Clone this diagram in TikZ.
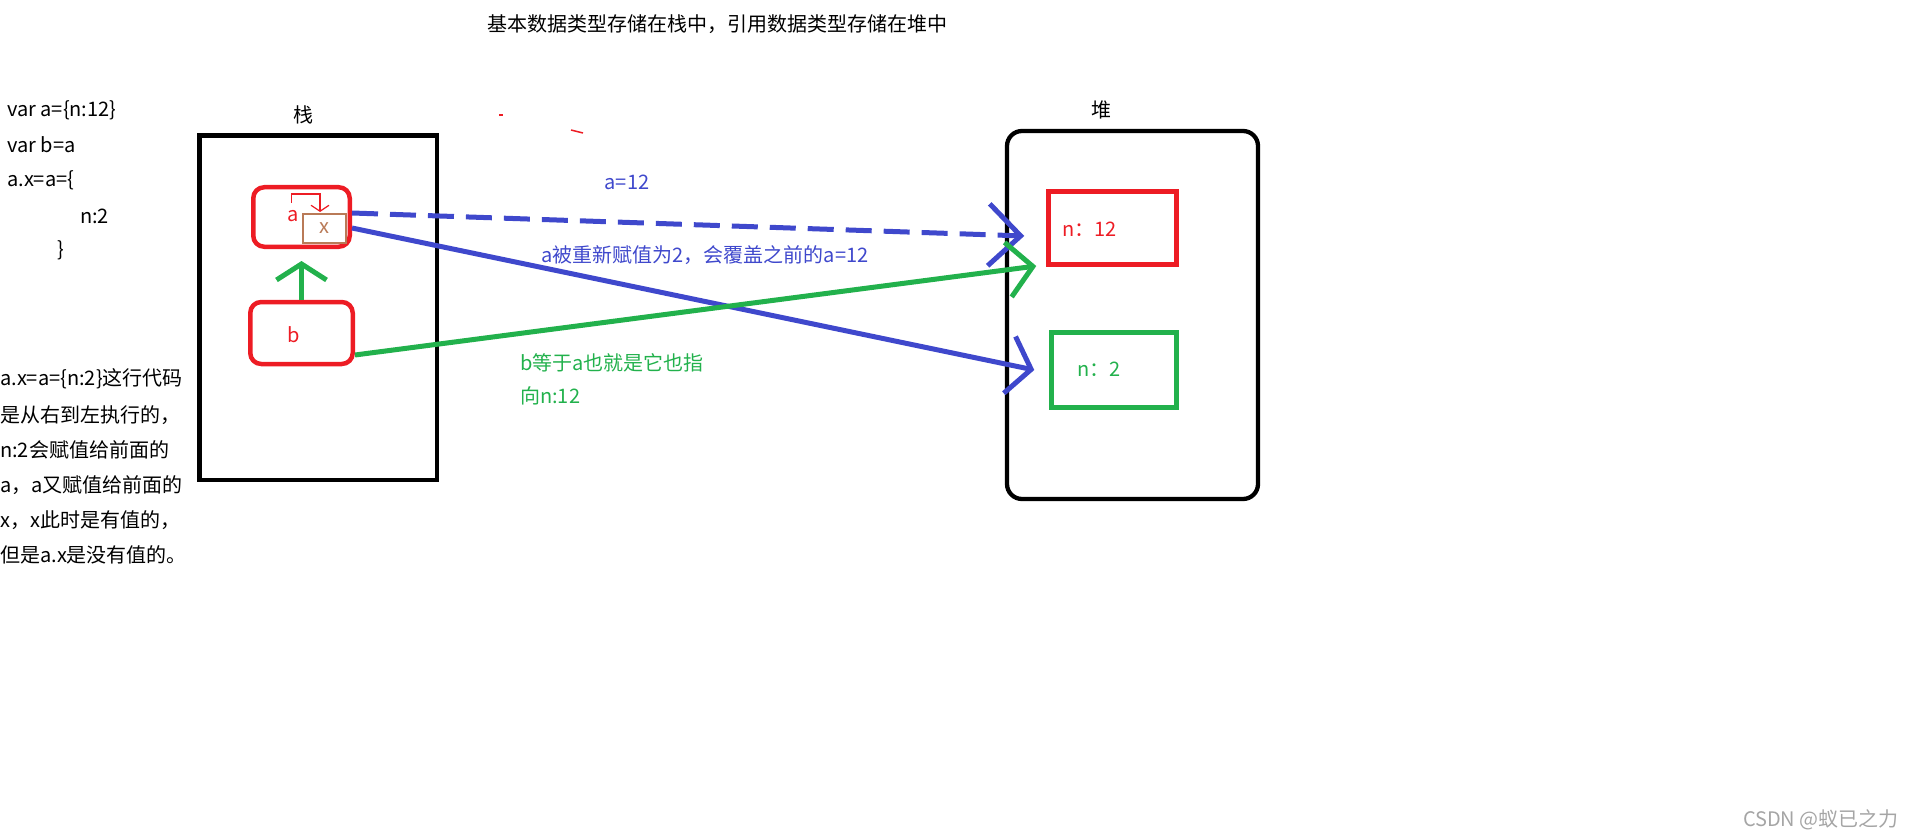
\documentclass[tikz,border=0pt]{standalone}
\usepackage{fontspec}
\setmainfont{Noto Sans CJK SC}
\usetikzlibrary{positioning, arrows.meta}
\definecolor{PaintRed}{RGB}{237,28,36}
\definecolor{PaintGreen}{RGB}{34,177,76}
\definecolor{PaintBlue}{RGB}{63,72,204}
\definecolor{PaintBrown}{RGB}{185,122,87}
\definecolor{MarkGray}{RGB}{165,165,165}

\begin{document}
\begin{tikzpicture}[x=1pt, y=-1pt, font=\fontsize{20}{24}\selectfont,
    txt/.style={anchor=west, inner sep=0pt},
    membox/.style={draw, line width=4.3pt, inner sep=0pt},
    varbox/.style={draw=PaintRed, line width=4.5pt, rounded corners=11pt, inner sep=0pt},
    valbox/.style={line width=4.5pt, inner sep=0pt},
    bluearrow/.style={draw=PaintBlue, line width=5pt},
    greenarrow/.style={draw=PaintGreen, line width=5pt}]
    \useasboundingbox (0,0) rectangle (1914,837);

    % Title
    \node[inner sep=0pt] (title) at (717.5,24) {基本数据类型存储在栈中，引用数据类型存储在堆中};

    % Stack and heap
    \node[membox, minimum width=237.5pt, minimum height=344.5pt] (stack) at (318.25,307.75) {};
    \node[membox, rounded corners=15pt, minimum width=251pt, minimum height=368pt] (heap) at (1132.5,315) {};
    \node[inner sep=0pt] (stacklabel) at (303,115) {栈};
    \node[inner sep=0pt] (heaplabel) at (1101,110) {堆};

    % Variables in the stack
    \node[varbox, minimum width=96.5pt, minimum height=59.5pt] (abox) at (301.5,217) {};
    \node[varbox, minimum width=102.5pt, minimum height=62pt] (bbox) at (301.5,333) {};
    \node[draw=PaintBrown, line width=1.3pt, fill=white, minimum width=43pt, minimum height=29pt, inner sep=0pt,
          text=PaintBrown] (xbox) at (324.5,228.5) {x};
    \node[inner sep=0pt, text=PaintRed] (aname) at (292.7,216) {a};
    \node[inner sep=0pt, text=PaintRed] (bname) at (294,335) {b};
    \draw[PaintRed, line width=1.2pt, -{Straight Barb[length=6pt, width=18pt]}] (291.7,203) |- (320,194) -- (320,212);

    % Objects in the heap
    \node[valbox, draw=PaintRed, minimum width=128pt, minimum height=73pt] (nbig) at (1112.5,228) {};
    \node[valbox, draw=PaintGreen, minimum width=125pt, minimum height=75pt] (nsmall) at (1114,370) {};
    \node[txt, text=PaintRed] (nbigtext) at (1062,229) {n：12};
    \node[txt, text=PaintGreen] (nsmalltext) at (1077,369) {n：2};

    % References
    \draw[bluearrow, dash pattern=on 26pt off 12pt, -{Straight Barb[length=32pt, width=62pt]}]
        ([yshift=4pt]abox.east) -- ([shift={(-22,8)}]nbig.west);
    \draw[bluearrow, -{Straight Barb[length=22pt, width=58pt]}]
        ([yshift=-11pt]abox.east) -- ([xshift=-15pt]nsmall.west);
    \draw[greenarrow, -{Straight Barb[length=25pt, width=55pt]}]
        ([yshift=-22pt]bbox.east) -- ([shift={(-10,38)}]nbig.west);
    \draw[greenarrow, shorten >=12pt, -{Straight Barb[length=16pt, width=50pt]}]
        (bbox.north) -- (abox.south);

    % Labels on the references
    \node[inner sep=0pt, text=PaintBlue] (lblold) at (627,182) {a=12};
    \node[inner sep=0pt, text=PaintBlue] (lblnew) at (705,255) {a被重新赋值为2，会覆盖之前的a=12};
    \node[txt, text=PaintGreen] (lblb1) at (520,363) {b等于a也就是它也指};
    \node[txt, text=PaintGreen] (lblb2) at (520,396) {向n:12};

    % Stray marks
    \draw[PaintRed, line width=1.5pt] (499,115) -- (503,115);
    \draw[PaintRed, line width=1.5pt] (571,130) -- (583,133);

    % Code
    \node[txt] (code1) at (7,110) {var a=\{n:12\}};
    \node[txt] (code2) at (7,145) {var b=a};
    \node[txt] (code3) at (7,180) {a.x=a=\{};
    \node[txt] (code4) at (80,216) {n:2};
    \node[txt] (code5) at (57,250) {\}};

    % Notes
    \node[txt] (note1) at (0,379) {a.x=a=\{n:2\}这行代码};
    \node[txt] (note2) at (0,415) {是从右到左执行的，};
    \node[txt] (note3) at (0,450) {n:2会赋值给前面的};
    \node[txt] (note4) at (0,485) {a，a又赋值给前面的};
    \node[txt] (note5) at (0,520) {x，x此时是有值的，};
    \node[txt] (note6) at (0,555) {但是a.x是没有值的。};

    % Watermark
    \node[inner sep=0pt, anchor=east, text=MarkGray] (mark) at (1899,820) {CSDN @蚁已之力};
\end{tikzpicture}
\end{document}
